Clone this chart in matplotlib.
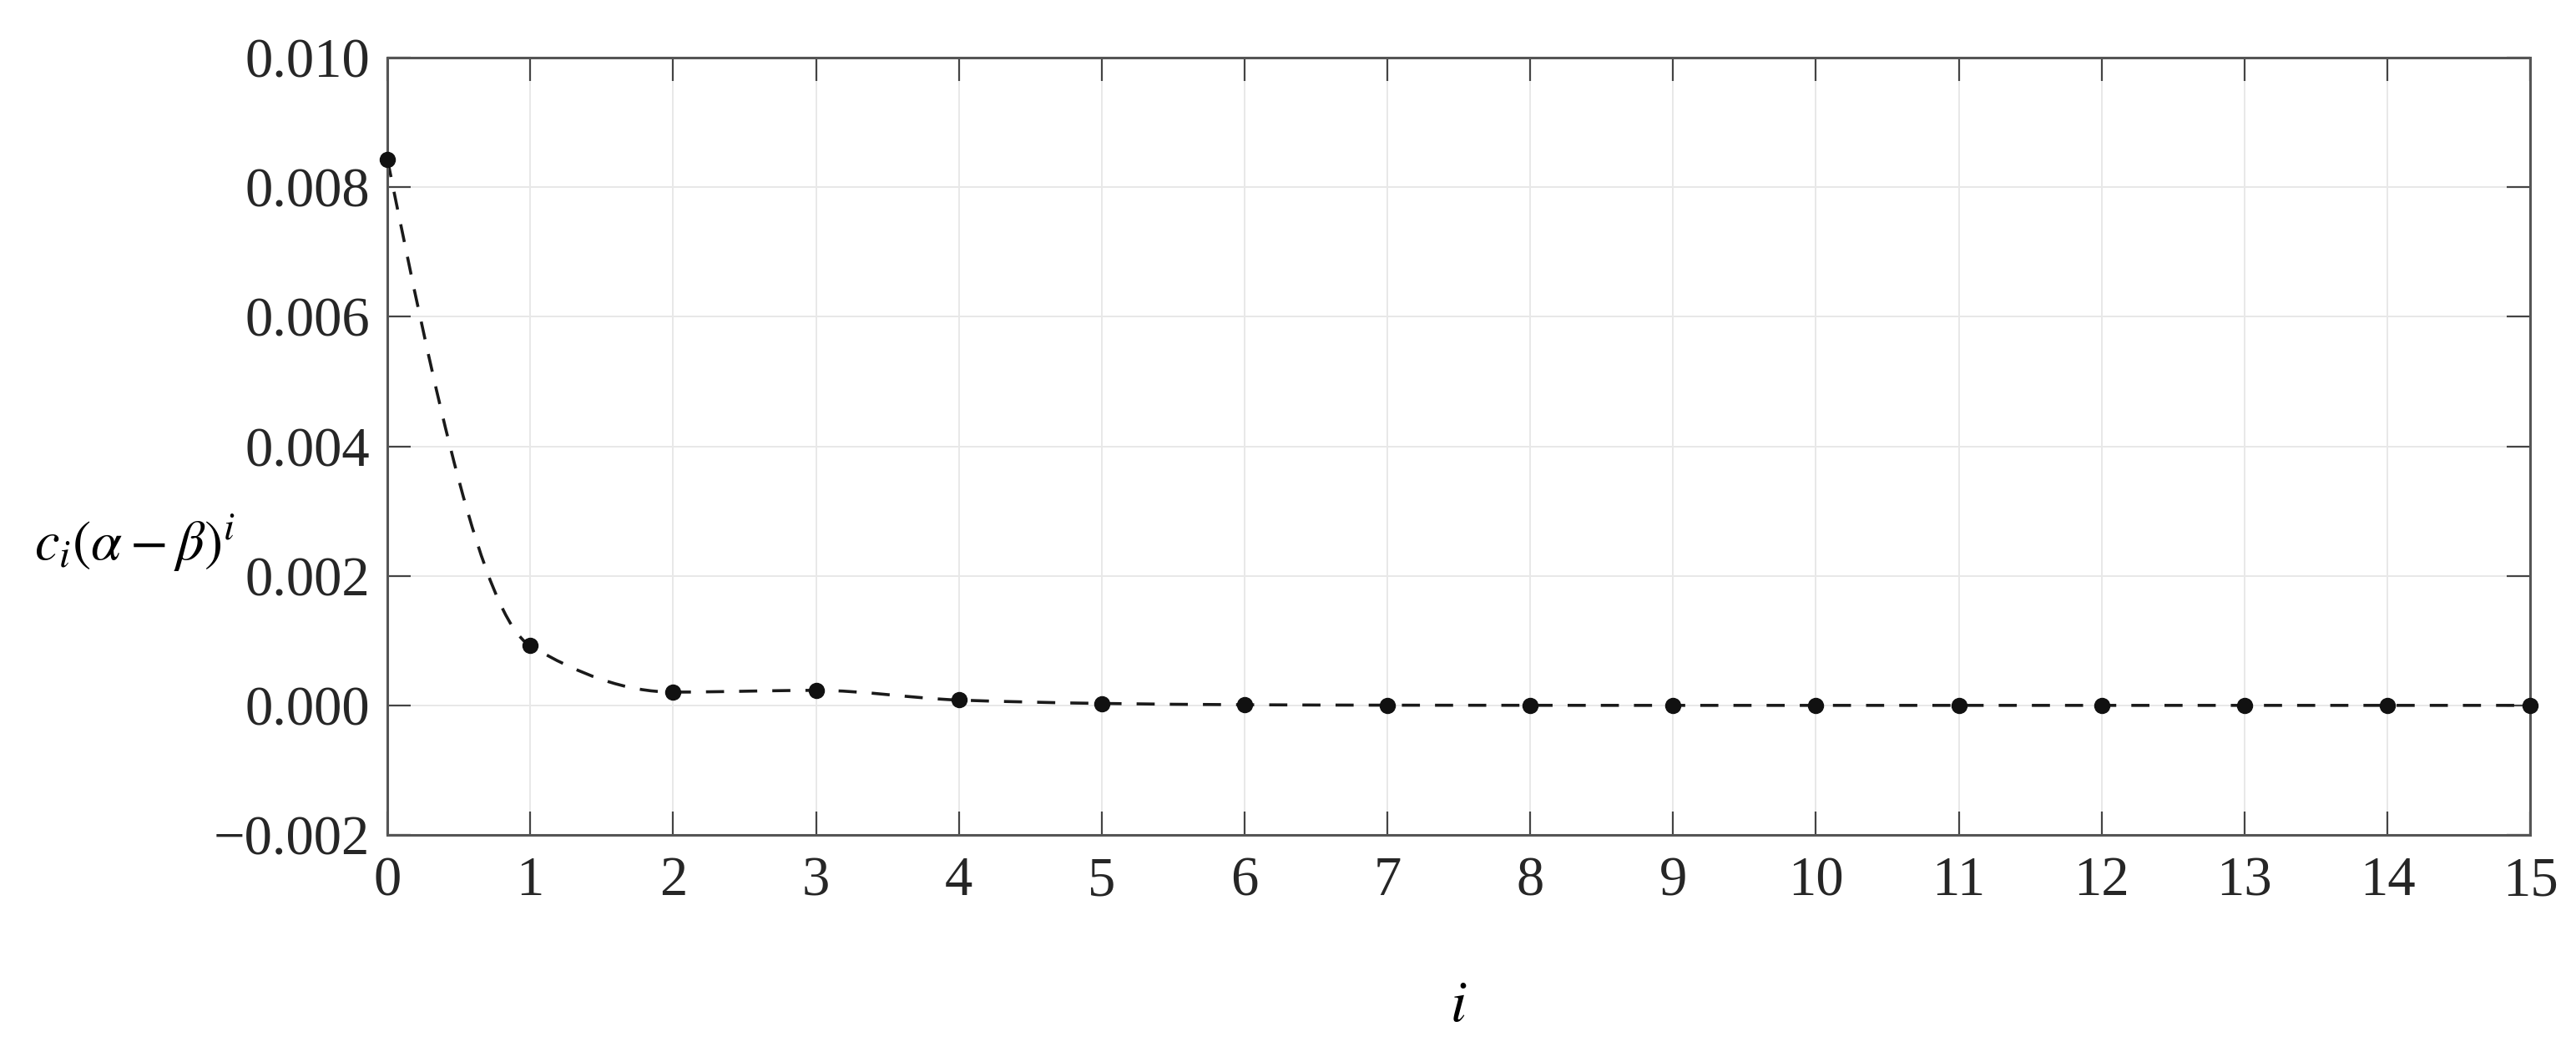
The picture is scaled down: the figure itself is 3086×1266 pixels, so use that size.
import numpy as np
import matplotlib
matplotlib.use("Agg")
import matplotlib.pyplot as plt
from matplotlib.path import Path
from matplotlib.patches import PathPatch
from matplotlib.ticker import FuncFormatter

# values
idx = [0, 1, 2, 3, 4, 5, 6, 7, 8, 9, 10, 11, 12, 13, 14, 15]
coef = [0.00843, 0.00092, 0.000205, 0.000232, 0.000082, 0.000030, 0.000010,
        0.000003, 0.000001, 0.0, 0.0, 0.0, 0.0, 0.0, 0.0, 0.0]
xticks = list(range(0, 16))
yticks = [-0.002, 0.0, 0.002, 0.004, 0.006, 0.008, 0.010]

plt.rcParams['font.family'] = ['Liberation Serif', 'DejaVu Serif']
plt.rcParams['mathtext.fontset'] = 'stix'


def pchip_slopes(x, y):
    # shape preserving slopes (Fritsch-Carlson), like MATLAB pchip
    x = np.asarray(x, float)
    y = np.asarray(y, float)
    h = np.diff(x)
    d = np.diff(y) / h
    m = np.zeros_like(y)
    for k in range(1, len(y) - 1):
        if d[k - 1] * d[k] > 0:
            w1 = 2 * h[k] + h[k - 1]
            w2 = h[k] + 2 * h[k - 1]
            m[k] = (w1 + w2) / (w1 / d[k - 1] + w2 / d[k])
    m0 = ((2 * h[0] + h[1]) * d[0] - h[0] * d[1]) / (h[0] + h[1])
    if np.sign(m0) != np.sign(d[0]):
        m0 = 0
    m[0] = m0
    mn = ((2 * h[-1] + h[-2]) * d[-1] - h[-1] * d[-2]) / (h[-1] + h[-2])
    if np.sign(mn) != np.sign(d[-1]):
        mn = 0
    m[-1] = mn
    return m


def smooth_path(x, y):
    # cubic bezier segments through the data points
    m = pchip_slopes(x, y)
    verts = [(x[0], y[0])]
    codes = [Path.MOVETO]
    for k in range(len(x) - 1):
        h = x[k + 1] - x[k]
        verts += [(x[k] + h / 3, y[k] + h * m[k] / 3),
                  (x[k + 1] - h / 3, y[k + 1] - h * m[k + 1] / 3),
                  (x[k + 1], y[k + 1])]
        codes += [Path.CURVE4] * 3
    return Path(verts, codes)


fig = plt.figure(figsize=(30.86, 12.66), dpi=100)
ax = fig.add_axes([0.1504, 0.2101, 0.8318, 0.7354])

ax.add_patch(PathPatch(smooth_path(idx, coef), fill=False, edgecolor='#1a1a1a',
                       lw=2.6, linestyle=(0, (6, 5))))
ax.plot(idx, coef, linestyle='none', marker='o', markersize=13,
        color='#111111', zorder=3, clip_on=False)

ax.set_xlim(0, 15)
ax.set_ylim(-0.002, 0.010)
ax.set_xticks(xticks)
ax.set_yticks(yticks)
ax.yaxis.set_major_formatter(FuncFormatter(
    lambda v, p: ('%.3f' % v).replace('-', '\u2212')))

ax.grid(True, color='#e8e8e8', lw=1.4)
ax.set_axisbelow(True)
for s in ax.spines.values():
    s.set_color('#555555')
    s.set_linewidth(2.2)
ax.tick_params(axis='both', direction='in', length=20, width=1.6,
               colors='#444444', labelcolor='#262626', labelsize=48,
               top=True, right=True)
ax.tick_params(axis='x', pad=18)
ax.tick_params(axis='y', pad=15)

ax.set_xlabel('$i$', fontsize=50, va='center')
ax.xaxis.set_label_coords(0.5, -0.222)
ax.set_ylabel(r'$c_i(\alpha-\beta)^i$', fontsize=48, rotation=0,
              va='center', ha='center')
ax.yaxis.set_label_coords(-0.118, 0.376)

fig.savefig('out.png', dpi=100)
